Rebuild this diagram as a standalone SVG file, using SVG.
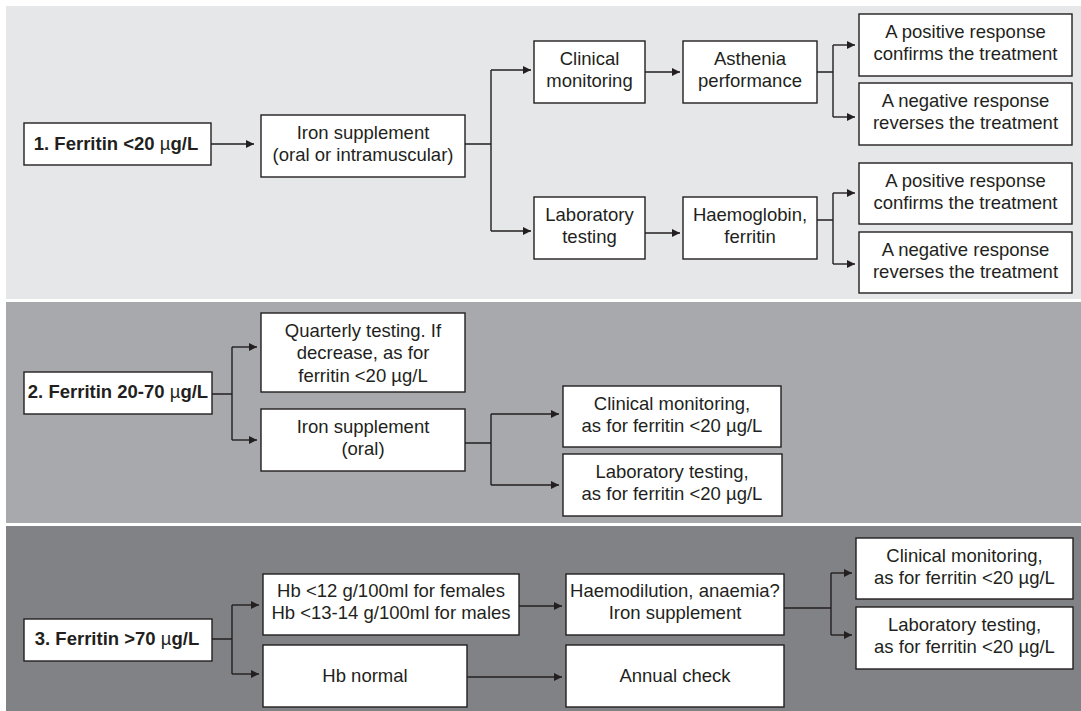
<svg xmlns="http://www.w3.org/2000/svg" width="1081" height="711" viewBox="0 0 1081 711">
<style>
.box{fill:#ffffff;stroke:#231f20;stroke-width:1.4}
.t{font-family:"Liberation Sans",Arial,sans-serif;font-size:18.5px;fill:#231f20;text-anchor:middle}
.b{font-weight:bold}
.mu{font-weight:normal}
.c{fill:none;stroke:#231f20;stroke-width:1.4}
.a{fill:none;stroke:#231f20;stroke-width:1.4;marker-end:url(#ah)}
</style>
<defs>
<marker id="ah" markerUnits="userSpaceOnUse" viewBox="0 0 10 10" markerWidth="9" markerHeight="8" refX="10" refY="5" orient="auto">
<path d="M0,0 L10,5 L0,10 z" fill="#231f20"/>
</marker>
</defs>
<rect x="0" y="0" width="1081" height="711" fill="#ffffff"/>
<g id="panels">
<rect x="6" y="6" width="1075" height="293" fill="#e6e7e8"/>
<rect x="6" y="302" width="1075" height="221" fill="#a7a9ac"/>
<rect x="6" y="526" width="1075" height="185" fill="#808285"/>
</g>
<g id="connectors">
<path class="a" d="M211,144 H254"/>
<path class="c" d="M465,144 H491 M491,70 V231"/>
<path class="a" d="M491,70 H531"/>
<path class="a" d="M491,231 H531"/>
<path class="a" d="M645,72 H680"/>
<path class="a" d="M645,233 H680"/>
<path class="c" d="M817,72 H833 M833,45 V117"/>
<path class="a" d="M833,45 H855"/>
<path class="a" d="M833,117 H855"/>
<path class="c" d="M817,220 H833 M833,193 V264"/>
<path class="a" d="M833,193 H855"/>
<path class="a" d="M833,264 H855"/>
<path class="c" d="M212,394 H232 M232,347 V440"/>
<path class="a" d="M232,347 H257"/>
<path class="a" d="M232,440 H257"/>
<path class="c" d="M465,443 H491 M491,414 V485"/>
<path class="a" d="M491,414 H559"/>
<path class="a" d="M491,485 H559"/>
<path class="c" d="M212,639 H232 M232,605 V674"/>
<path class="a" d="M232,605 H259"/>
<path class="a" d="M232,674 H259"/>
<path class="a" d="M519,606 H562"/>
<path class="a" d="M467,677 H562"/>
<path class="c" d="M784,608 H831 M831,573 V635"/>
<path class="a" d="M831,573 H852"/>
<path class="a" d="M831,635 H852"/>
</g>
<g id="n1">
<rect class="box" x="24" y="123" width="187" height="42"/>
<text class="t b" x="116" y="150">1. Ferritin &lt;20 <tspan class="mu">µ</tspan>g/L</text>
</g>
<g id="n2">
<rect class="box" x="261" y="115" width="204" height="62"/>
<text class="t" x="363" y="139">Iron supplement</text>
<text class="t" x="363" y="161">(oral or intramuscular)</text>
</g>
<g id="n3">
<rect class="box" x="534" y="41" width="111" height="62"/>
<text class="t" x="589.5" y="65">Clinical</text>
<text class="t" x="589.5" y="87">monitoring</text>
</g>
<g id="n4">
<rect class="box" x="683" y="41" width="134" height="62"/>
<text class="t" x="750" y="65">Asthenia</text>
<text class="t" x="750" y="87">performance</text>
</g>
<g id="n5">
<rect class="box" x="859" y="14" width="213" height="62"/>
<text class="t" x="965.5" y="38">A positive response</text>
<text class="t" x="965.5" y="60">confirms the treatment</text>
</g>
<g id="n6">
<rect class="box" x="859" y="83" width="213" height="62"/>
<text class="t" x="965.5" y="107">A negative response</text>
<text class="t" x="965.5" y="129">reverses the treatment</text>
</g>
<g id="n7">
<rect class="box" x="534" y="197" width="111" height="62"/>
<text class="t" x="589.5" y="221">Laboratory</text>
<text class="t" x="589.5" y="243">testing</text>
</g>
<g id="n8">
<rect class="box" x="683" y="197" width="134" height="62"/>
<text class="t" x="750" y="221">Haemoglobin,</text>
<text class="t" x="750" y="243">ferritin</text>
</g>
<g id="n9">
<rect class="box" x="859" y="163" width="213" height="61"/>
<text class="t" x="965.5" y="187">A positive response</text>
<text class="t" x="965.5" y="209">confirms the treatment</text>
</g>
<g id="n10">
<rect class="box" x="859" y="232" width="213" height="61"/>
<text class="t" x="965.5" y="256">A negative response</text>
<text class="t" x="965.5" y="278">reverses the treatment</text>
</g>
<g id="n11">
<rect class="box" x="24" y="372" width="188" height="42"/>
<text class="t b" x="118" y="398">2. Ferritin 20-70 <tspan class="mu">µ</tspan>g/L</text>
</g>
<g id="n12">
<rect class="box" x="261" y="313" width="204" height="79"/>
<text class="t" x="363" y="337">Quarterly testing. If</text>
<text class="t" x="363" y="359">decrease, as for</text>
<text class="t" x="363" y="382">ferritin &lt;20 µg/L</text>
</g>
<g id="n13">
<rect class="box" x="261" y="409" width="204" height="62"/>
<text class="t" x="363" y="433">Iron supplement</text>
<text class="t" x="363" y="455">(oral)</text>
</g>
<g id="n14">
<rect class="box" x="563" y="386" width="218" height="61"/>
<text class="t" x="672" y="410">Clinical monitoring,</text>
<text class="t" x="672" y="432">as for ferritin &lt;20 µg/L</text>
</g>
<g id="n15">
<rect class="box" x="563" y="454" width="219" height="62"/>
<text class="t" x="672" y="478">Laboratory testing,</text>
<text class="t" x="672" y="500">as for ferritin &lt;20 µg/L</text>
</g>
<g id="n16">
<rect class="box" x="24" y="619" width="188" height="42"/>
<text class="t b" x="117" y="645">3. Ferritin &gt;70 <tspan class="mu">µ</tspan>g/L</text>
</g>
<g id="n17">
<rect class="box" x="263" y="574" width="256" height="61"/>
<text class="t" x="391" y="597">Hb &lt;12 g/100ml for females</text>
<text class="t" x="391" y="619">Hb &lt;13-14 g/100ml for males</text>
</g>
<g id="n18">
<rect class="box" x="263" y="645" width="204" height="62"/>
<text class="t" x="365" y="682">Hb normal</text>
</g>
<g id="n19">
<rect class="box" x="566" y="574" width="218" height="61"/>
<text class="t" x="675" y="597">Haemodilution, anaemia?</text>
<text class="t" x="675" y="619">Iron supplement</text>
</g>
<g id="n20">
<rect class="box" x="566" y="645" width="218" height="62"/>
<text class="t" x="675" y="682">Annual check</text>
</g>
<g id="n21">
<rect class="box" x="856" y="538" width="217" height="61"/>
<text class="t" x="964.5" y="562">Clinical monitoring,</text>
<text class="t" x="964.5" y="584">as for ferritin &lt;20 µg/L</text>
</g>
<g id="n22">
<rect class="box" x="856" y="607" width="217" height="62"/>
<text class="t" x="964.5" y="631">Laboratory testing,</text>
<text class="t" x="964.5" y="653">as for ferritin &lt;20 µg/L</text>
</g>
</svg>
